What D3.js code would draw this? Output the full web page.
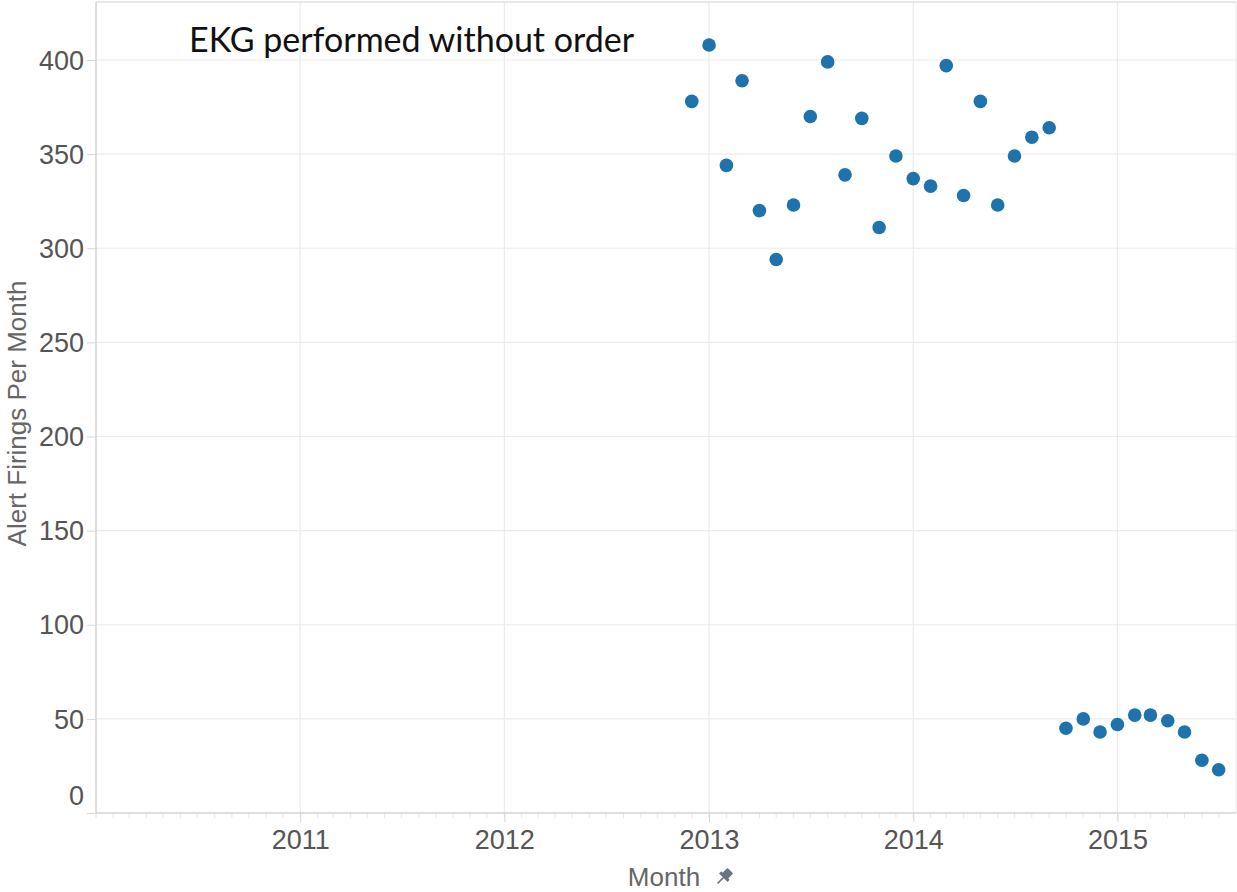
<!DOCTYPE html>
<html>
<head>
<meta charset="utf-8">
<script src="https://cdn.jsdelivr.net/npm/d3@7"></script>
<style>
  body { margin: 0; background: #fff; }
  svg { display: block; }
</style>
</head>
<body>
<div id="wrapper"></div>
<script>
// monthly alert firings, Dec 2012 - Jul 2015
const months = [
    "2012-12", "2013-01", "2013-02", "2013-03", "2013-04", "2013-05", "2013-06",
    "2013-07", "2013-08", "2013-09", "2013-10", "2013-11", "2013-12", "2014-01",
    "2014-02", "2014-03", "2014-04", "2014-05", "2014-06", "2014-07", "2014-08",
    "2014-09", "2014-10", "2014-11", "2014-12", "2015-01", "2015-02", "2015-03",
    "2015-04", "2015-05", "2015-06", "2015-07"
];
const firings = [
    378, 408, 344, 389, 320, 294, 323,
    370, 399, 339, 369, 311, 349, 337,
    333, 397, 328, 378, 323, 349, 359,
    364, 45, 50, 43, 47, 52, 52,
    49, 43, 28, 23
];
const yTicks = [0, 50, 100, 150, 200, 250, 300, 350, 400];
const yearTicks = ["2011", "2012", "2013", "2014", "2015"];
const xStart = "2010-01";
const xEnd = "2015-08";
const chartTitle = "EKG performed without order";

function buildPlot() {
    const parseMonth = d3.timeParse("%Y-%m");
    const parseYear = d3.timeParse("%Y");
    const data = months.map((m, i) => ({ date: parseMonth(m), value: firings[i] }));

    const dimension = {
        width: 1237,
        height: 892,
        left: 96,
        right: 1236,
        top: 2,
        bottom: 813
    };

    const svg = d3.select("#wrapper").append("svg")
        .attr("width", dimension.width)
        .attr("height", dimension.height);

    const xScaler = d3.scaleTime()
        .domain([parseMonth(xStart), parseMonth(xEnd)])
        .range([dimension.left, dimension.right]);

    const yScaler = d3.scaleLinear()
        .domain([0, 400])
        .range([dimension.bottom, 60]);

    const fontFamily = "'Liberation Sans', Arial, sans-serif";

    // gridlines
    svg.append("g")
        .selectAll("line")
        .data(yTicks.filter(d => d > 0))
        .join("line")
        .attr("x1", dimension.left).attr("x2", dimension.right)
        .attr("y1", d => yScaler(d)).attr("y2", d => yScaler(d))
        .attr("stroke", "#ebebeb").attr("stroke-width", 1.2);

    svg.append("g")
        .selectAll("line")
        .data(yearTicks)
        .join("line")
        .attr("x1", d => xScaler(parseYear(d))).attr("x2", d => xScaler(parseYear(d)))
        .attr("y1", dimension.top).attr("y2", dimension.bottom)
        .attr("stroke", "#ebebeb").attr("stroke-width", 1.2);

    // frame top/right
    svg.append("line")
        .attr("x1", dimension.left).attr("x2", dimension.right)
        .attr("y1", dimension.top).attr("y2", dimension.top)
        .attr("stroke", "#e0e0e0").attr("stroke-width", 1.5);
    svg.append("line")
        .attr("x1", dimension.right).attr("x2", dimension.right)
        .attr("y1", dimension.top).attr("y2", dimension.bottom)
        .attr("stroke", "#ededed").attr("stroke-width", 1.2);

    // y axis
    const y_axis = d3.axisLeft(yScaler)
        .tickValues(yTicks)
        .tickSize(9)
        .tickPadding(3);
    const yAxisG = svg.append("g")
        .attr("transform", `translate(${dimension.left},0)`)
        .call(y_axis);
    yAxisG.select(".domain").remove();
    yAxisG.selectAll(".tick line").attr("stroke", "#d6d6d6");
    yAxisG.selectAll(".tick text")
        .attr("fill", "#555")
        .style("font-family", fontFamily)
        .style("font-size", "27px")
        .attr("dy", d => d === 0 ? "-0.3em" : "0.34em");
    svg.append("line")
        .attr("x1", dimension.left).attr("x2", dimension.left)
        .attr("y1", dimension.top).attr("y2", dimension.bottom)
        .attr("stroke", "#d3d3d3").attr("stroke-width", 1.5);

    // x axis: monthly minor ticks + yearly labels
    const monthTicks = d3.timeMonth.range(parseMonth(xStart), parseMonth(xEnd));
    svg.append("g")
        .selectAll("line")
        .data(monthTicks)
        .join("line")
        .attr("x1", d => xScaler(d)).attr("x2", d => xScaler(d))
        .attr("y1", dimension.bottom).attr("y2", dimension.bottom + 5)
        .attr("stroke", "#e6e6e6");

    const x_axis = d3.axisBottom(xScaler)
        .tickValues(yearTicks.map(parseYear))
        .tickFormat(d3.timeFormat("%Y"))
        .tickSize(9)
        .tickPadding(8);
    const xAxisG = svg.append("g")
        .attr("transform", `translate(0,${dimension.bottom})`)
        .call(x_axis);
    xAxisG.select(".domain").remove();
    xAxisG.selectAll(".tick line").attr("stroke", "#d6d6d6");
    xAxisG.selectAll(".tick text")
        .attr("fill", "#555")
        .style("font-family", fontFamily)
        .style("font-size", "27px");
    svg.append("line")
        .attr("x1", dimension.left).attr("x2", dimension.right)
        .attr("y1", dimension.bottom).attr("y2", dimension.bottom)
        .attr("stroke", "#d3d3d3").attr("stroke-width", 1.5);

    // axis titles
    const midX = (dimension.left + dimension.right) / 2;
    svg.append("text")
        .attr("x", midX - 2)
        .attr("y", 886)
        .attr("text-anchor", "middle")
        .attr("fill", "#666")
        .style("font-family", fontFamily)
        .style("font-size", "26px")
        .text("Month");

    // little pin icon next to "Month"
    const pin = svg.append("g")
        .attr("transform", `translate(${midX + 58},877) rotate(45)`)
        .attr("fill", "#6b7480");
    pin.append("rect").attr("x", -4).attr("y", -9).attr("width", 8).attr("height", 8).attr("rx", 1);
    pin.append("rect").attr("x", -6).attr("y", -2).attr("width", 12).attr("height", 3);
    pin.append("rect").attr("x", -0.8).attr("y", 0).attr("width", 1.6).attr("height", 9);

    svg.append("text")
        .attr("transform", `translate(26,${(dimension.top + dimension.bottom) / 2 + 6}) rotate(-90)`)
        .attr("text-anchor", "middle")
        .attr("fill", "#666")
        .style("font-family", fontFamily)
        .style("font-size", "26px")
        .text("Alert Firings Per Month");

    // chart annotation
    svg.append("text")
        .attr("x", 189)
        .attr("y", 52)
        .attr("fill", "#111")
        .style("font-family", "Lato, 'Open Sans', sans-serif")
        .style("font-size", "34px")
        .text(chartTitle);

    // points
    svg.append("g")
        .selectAll("circle")
        .data(data)
        .join("circle")
        .attr("cx", d => xScaler(d.date))
        .attr("cy", d => yScaler(d.value))
        .attr("r", 6.8)
        .attr("fill", "#1f73ad");
}

buildPlot();
</script>
</body>
</html>
